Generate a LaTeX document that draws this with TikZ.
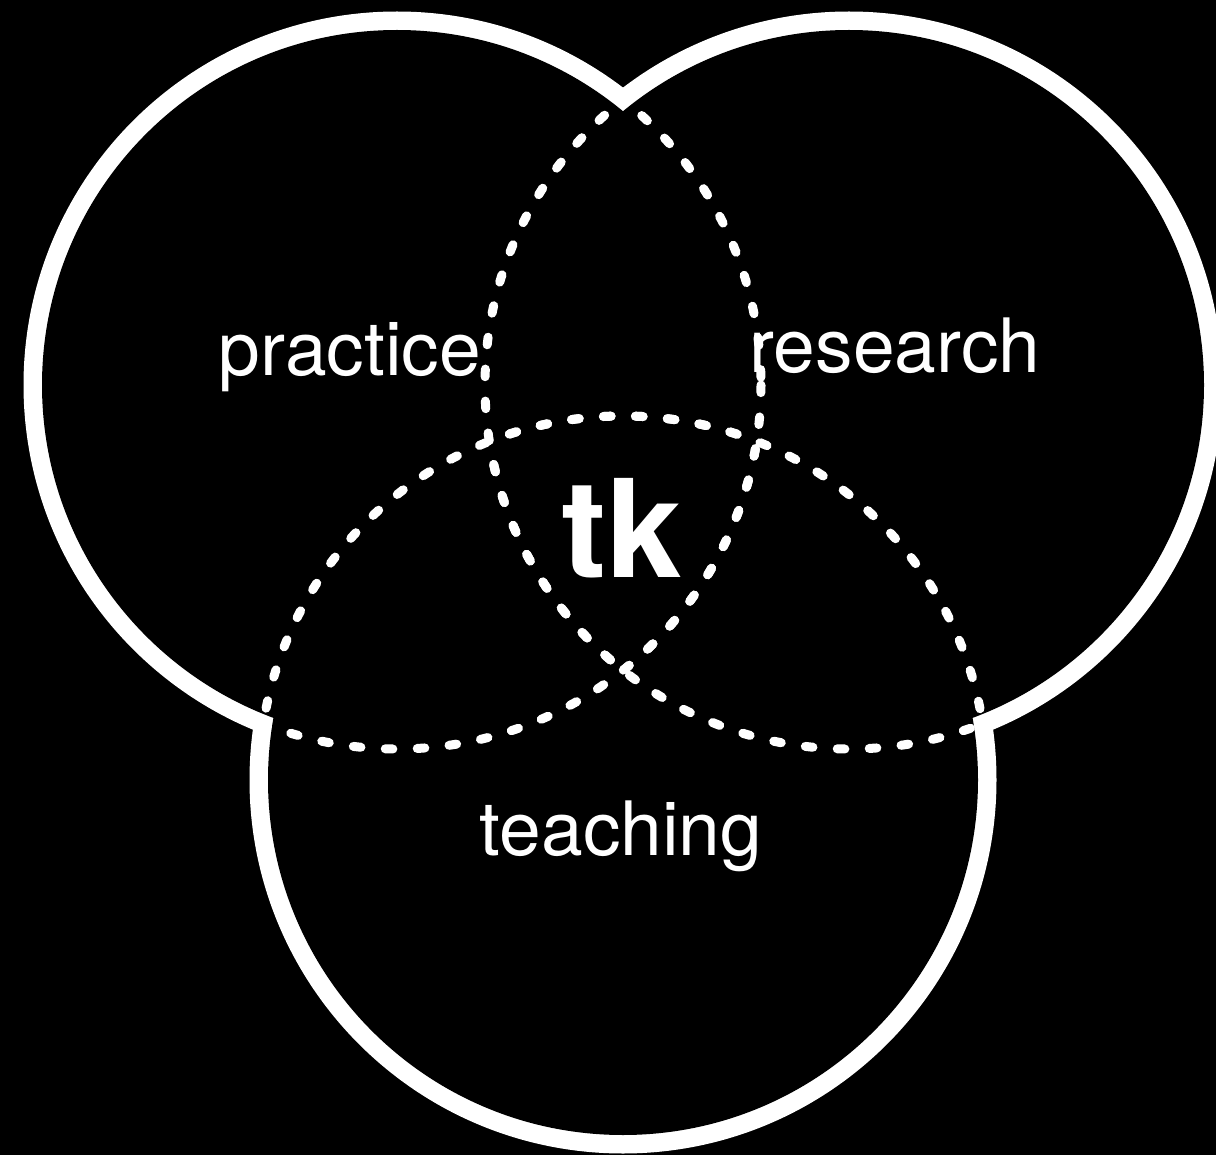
\documentclass[tikz,border=0pt]{standalone}
\usepackage{fontspec}
\setmainfont{TeX Gyre Heros}
\usetikzlibrary{positioning}

\tikzset{
  ring/.style={draw=white, line width=9.5pt},
  dotring/.style={draw=white, line width=4.5pt, line cap=round, dash pattern=on 3.8pt off 12.2pt},
  setname/.style={text=white, inner sep=0pt, anchor=base, font=\fontsize{37.5}{40}\selectfont},
  core/.style={text=white, inner sep=0pt, anchor=base, font=\bfseries\fontsize{68}{72}\selectfont},
}

\begin{document}
\begin{tikzpicture}[x=0.5pt,y=-0.5pt]
	\useasboundingbox (0,0) rectangle (1216,1155);
	\fill[black] (0,0) rectangle (1216,1155);
	\coordinate (practice) at (397,385);
	\coordinate (research) at (849,385);
	\coordinate (teaching) at (623,780);
	% outline of the union
	\foreach \c in {practice,research,teaching}
		\draw[ring] (\c) circle[radius=364];
	\foreach \c in {practice,research,teaching}
		\fill[black] (\c) circle[radius=355];
	\node[setname] (lpractice) at (350,375) {practice};
	\node[setname] (lresearch) at (895,372) {research};
	\node[setname] (lteaching) at (621,855) {teaching};
	\node[core] (ltk) at (622,577) {tk};
	% dotted arcs inside
	\foreach \a/\b in {practice/research,practice/teaching,research/practice,research/teaching,teaching/practice,teaching/research}{
		\begin{scope}
			\clip (\b) circle[radius=364];
			\draw[dotring] (\a) circle[radius=364];
		\end{scope}
	}
\end{tikzpicture}
\end{document}
